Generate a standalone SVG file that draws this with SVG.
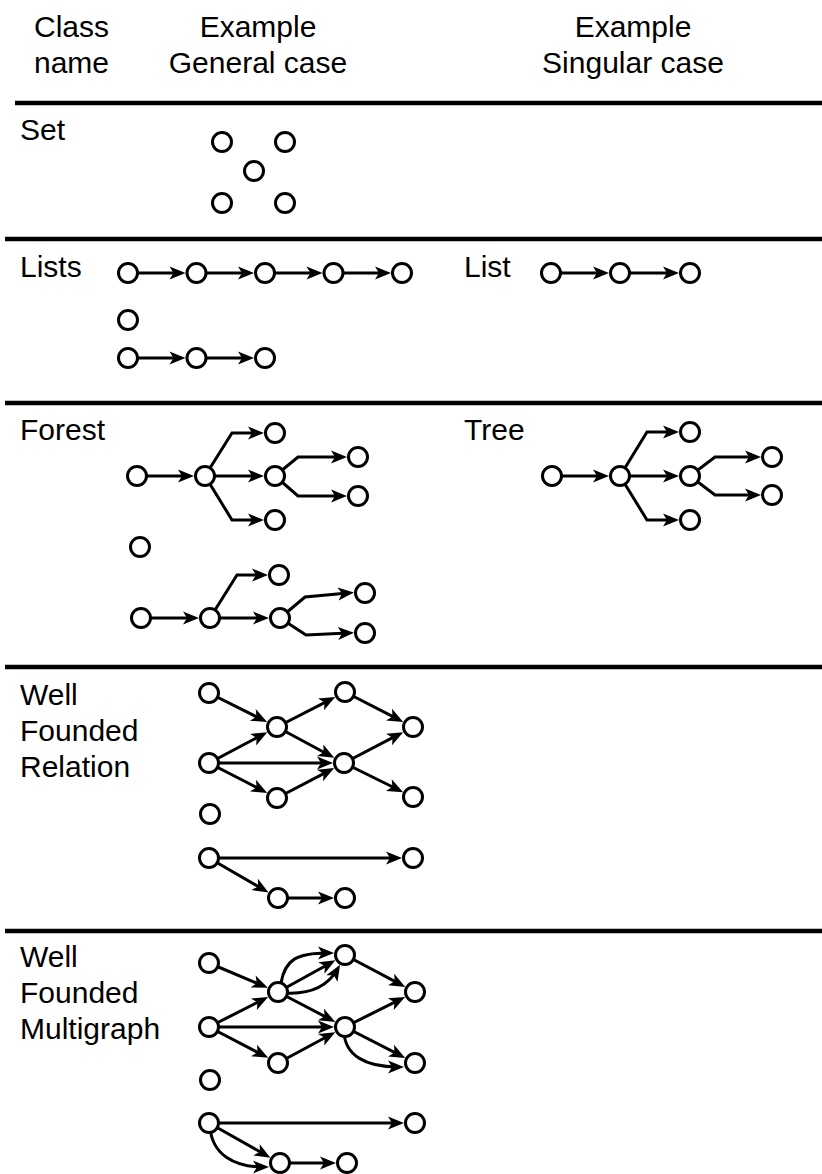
<svg xmlns="http://www.w3.org/2000/svg" width="822" height="1174" viewBox="0 0 822 1174">
<style>
.n{fill:#fff;stroke:#000;stroke-width:3}
.e{fill:none;stroke:#000;stroke-width:3;marker-end:url(#ah)}
.t{font-family:"Liberation Sans",Arial,sans-serif;font-size:30px;fill:#000}
.m{text-anchor:middle}
.rule{stroke:#000;stroke-width:4.5}
</style>
<defs>
<marker id="ah" viewBox="0 0 16 13" markerWidth="16" markerHeight="13" refX="10" refY="6.5" orient="auto" markerUnits="userSpaceOnUse" overflow="visible">
<path d="M0,0 L16,6.5 L0,13 L4,6.5 z" fill="#000"/>
</marker>
</defs>
<rect width="822" height="1174" fill="#fff"/>

<g id="header">
<text class="t" x="34" y="37">Class</text>
<text class="t" x="34" y="73">name</text>
<text class="t m" x="258" y="37">Example</text>
<text class="t m" x="258" y="73">General case</text>
<text class="t m" x="633" y="37">Example</text>
<text class="t m" x="633" y="73">Singular case</text>
</g>

<g id="rules">
<line class="rule" x1="15" y1="103" x2="822" y2="103"/>
<line class="rule" x1="5" y1="239" x2="822" y2="239"/>
<line class="rule" x1="5" y1="403" x2="822" y2="403"/>
<line class="rule" x1="5" y1="667" x2="822" y2="667"/>
<line class="rule" x1="5" y1="931" x2="822" y2="931"/>
</g>

<g id="labels">
<text class="t" x="20" y="140">Set</text>
<text class="t" x="20" y="277">Lists</text>
<text class="t" x="464" y="277">List</text>
<text class="t" x="20" y="440">Forest</text>
<text class="t" x="464" y="440">Tree</text>
<text class="t" x="20" y="705">Well</text>
<text class="t" x="20" y="741">Founded</text>
<text class="t" x="20" y="777">Relation</text>
<text class="t" x="20" y="967">Well</text>
<text class="t" x="20" y="1003">Founded</text>
<text class="t" x="20" y="1039">Multigraph</text>
</g>

<g id="connectors">
<!-- Lists -->
<path class="e" d="M128,273 H179.5"/>
<path class="e" d="M196.5,273 H248"/>
<path class="e" d="M265,273 H316.5"/>
<path class="e" d="M333.5,273 H385"/>
<path class="e" d="M128,358 H179.5"/>
<path class="e" d="M196.5,358 H248"/>
<!-- List -->
<path class="e" d="M551,273 H603"/>
<path class="e" d="M620,273 H673"/>
<!-- Forest tree 1 -->
<path class="e" d="M137,476 H188"/>
<path class="e" d="M205,476 L232,433 H258"/>
<path class="e" d="M205,476 H258"/>
<path class="e" d="M205,476 L232,520 H258"/>
<path class="e" d="M275,476 L298,457 H341"/>
<path class="e" d="M275,476 L298,496 H341"/>
<!-- Forest tree 2 -->
<path class="e" d="M141,618 H193"/>
<path class="e" d="M210,618 L237,575 H262"/>
<path class="e" d="M210,618 H263"/>
<path class="e" d="M280,618 L305,597 L348,593"/>
<path class="e" d="M280,618 L306,635 L348,633"/>
<!-- Tree -->
<path class="e" d="M552,476 H603"/>
<path class="e" d="M620,476 L647,432 H673"/>
<path class="e" d="M620,476 H673"/>
<path class="e" d="M620,476 L647,520 H673"/>
<path class="e" d="M690,476 L715,457 H755"/>
<path class="e" d="M690,476 L715,495 H755"/>
<!-- Well founded relation -->
<path class="e" d="M209,693 L261.8,719.4"/>
<path class="e" d="M209,763 L262,735"/>
<path class="e" d="M209,763 H327"/>
<path class="e" d="M209,763 L261.9,790.2"/>
<path class="e" d="M277,727 L329.9,699.8"/>
<path class="e" d="M277,727 L329,755"/>
<path class="e" d="M277,798 L328.9,770.9"/>
<path class="e" d="M345,692 L397.9,719.2"/>
<path class="e" d="M344,763 L397.9,734.9"/>
<path class="e" d="M344,763 L397.8,789.5"/>
<path class="e" d="M209,858 H396"/>
<path class="e" d="M209,858 L263.3,889.5"/>
<path class="e" d="M278,898 H328"/>
<!-- Well founded multigraph -->
<path class="e" d="M209,963 L262.3,985.4"/>
<path class="e" d="M209,1027 L262.8,999.7"/>
<path class="e" d="M209,1027 H328"/>
<path class="e" d="M209,1027 L262.9,1055.1"/>
<path class="e" d="M278,992 L330.1,963.2"/>
<path class="e" d="M281,983 C285,960 296,953 328,953"/>
<path class="e" d="M286,993 C305,994 325,990 337,970"/>
<path class="e" d="M278,992 L329.9,1019.1"/>
<path class="e" d="M278,1063 L330,1035"/>
<path class="e" d="M345,955 L400,984.1"/>
<path class="e" d="M345,1027 L399.8,999.6"/>
<path class="e" d="M345,1027 L399.9,1055.2"/>
<path class="e" d="M344,1032 C345,1055 365,1067 398,1067"/>
<path class="e" d="M209,1123 H398"/>
<path class="e" d="M209,1123 L265.2,1154.7"/>
<path class="e" d="M210,1127 C212,1155 235,1167 263,1167"/>
<path class="e" d="M280,1163 H330"/>
</g>

<g id="set-n1"><circle class="n" cx="222" cy="142" r="9.5"/></g>
<g id="set-n2"><circle class="n" cx="285" cy="142" r="9.5"/></g>
<g id="set-n3"><circle class="n" cx="254" cy="171" r="9.5"/></g>
<g id="set-n4"><circle class="n" cx="222" cy="203" r="9.5"/></g>
<g id="set-n5"><circle class="n" cx="285" cy="203" r="9.5"/></g>

<g id="lists-a1"><circle class="n" cx="128" cy="273" r="9.5"/></g>
<g id="lists-a2"><circle class="n" cx="196.5" cy="273" r="9.5"/></g>
<g id="lists-a3"><circle class="n" cx="265" cy="273" r="9.5"/></g>
<g id="lists-a4"><circle class="n" cx="333.5" cy="273" r="9.5"/></g>
<g id="lists-a5"><circle class="n" cx="402" cy="273" r="9.5"/></g>
<g id="lists-b1"><circle class="n" cx="128" cy="320" r="9.5"/></g>
<g id="lists-c1"><circle class="n" cx="128" cy="358" r="9.5"/></g>
<g id="lists-c2"><circle class="n" cx="196.5" cy="358" r="9.5"/></g>
<g id="lists-c3"><circle class="n" cx="265" cy="358" r="9.5"/></g>

<g id="list-1"><circle class="n" cx="551" cy="273" r="9.5"/></g>
<g id="list-2"><circle class="n" cx="620" cy="273" r="9.5"/></g>
<g id="list-3"><circle class="n" cx="690" cy="273" r="9.5"/></g>

<g id="forest1-root"><circle class="n" cx="137" cy="476" r="9.5"/></g>
<g id="forest1-a"><circle class="n" cx="205" cy="476" r="9.5"/></g>
<g id="forest1-top"><circle class="n" cx="275" cy="433" r="9.5"/></g>
<g id="forest1-mid"><circle class="n" cx="275" cy="476" r="9.5"/></g>
<g id="forest1-bot"><circle class="n" cx="275" cy="520" r="9.5"/></g>
<g id="forest1-c1"><circle class="n" cx="358" cy="457" r="9.5"/></g>
<g id="forest1-c2"><circle class="n" cx="358" cy="496" r="9.5"/></g>
<g id="forest-iso"><circle class="n" cx="140" cy="547" r="9.5"/></g>
<g id="forest2-root"><circle class="n" cx="141" cy="618" r="9.5"/></g>
<g id="forest2-a"><circle class="n" cx="210" cy="618" r="9.5"/></g>
<g id="forest2-top"><circle class="n" cx="279" cy="575" r="9.5"/></g>
<g id="forest2-mid"><circle class="n" cx="280" cy="618" r="9.5"/></g>
<g id="forest2-c1"><circle class="n" cx="365" cy="593" r="9.5"/></g>
<g id="forest2-c2"><circle class="n" cx="365" cy="633" r="9.5"/></g>

<g id="tree-root"><circle class="n" cx="552" cy="476" r="9.5"/></g>
<g id="tree-a"><circle class="n" cx="620" cy="476" r="9.5"/></g>
<g id="tree-top"><circle class="n" cx="690" cy="432" r="9.5"/></g>
<g id="tree-mid"><circle class="n" cx="690" cy="476" r="9.5"/></g>
<g id="tree-bot"><circle class="n" cx="690" cy="520" r="9.5"/></g>
<g id="tree-c1"><circle class="n" cx="772" cy="457" r="9.5"/></g>
<g id="tree-c2"><circle class="n" cx="772" cy="495" r="9.5"/></g>

<g id="wfr-tl"><circle class="n" cx="209" cy="693" r="9.5"/></g>
<g id="wfr-n2"><circle class="n" cx="277" cy="727" r="9.5"/></g>
<g id="wfr-top"><circle class="n" cx="345" cy="692" r="9.5"/></g>
<g id="wfr-ru"><circle class="n" cx="413" cy="727" r="9.5"/></g>
<g id="wfr-lm"><circle class="n" cx="209" cy="763" r="9.5"/></g>
<g id="wfr-ce"><circle class="n" cx="344" cy="763" r="9.5"/></g>
<g id="wfr-lo"><circle class="n" cx="277" cy="798" r="9.5"/></g>
<g id="wfr-rl"><circle class="n" cx="413" cy="797" r="9.5"/></g>
<g id="wfr-iso"><circle class="n" cx="210" cy="814" r="9.5"/></g>
<g id="wfr-bl"><circle class="n" cx="209" cy="858" r="9.5"/></g>
<g id="wfr-br"><circle class="n" cx="413" cy="858" r="9.5"/></g>
<g id="wfr-bo"><circle class="n" cx="278" cy="898" r="9.5"/></g>
<g id="wfr-bo2"><circle class="n" cx="345" cy="898" r="9.5"/></g>

<g id="wfm-tl"><circle class="n" cx="209" cy="963" r="9.5"/></g>
<g id="wfm-n2"><circle class="n" cx="278" cy="992" r="9.5"/></g>
<g id="wfm-top"><circle class="n" cx="345" cy="955" r="9.5"/></g>
<g id="wfm-ru"><circle class="n" cx="415" cy="992" r="9.5"/></g>
<g id="wfm-lm"><circle class="n" cx="209" cy="1027" r="9.5"/></g>
<g id="wfm-ce"><circle class="n" cx="345" cy="1027" r="9.5"/></g>
<g id="wfm-lo"><circle class="n" cx="278" cy="1063" r="9.5"/></g>
<g id="wfm-rl"><circle class="n" cx="415" cy="1063" r="9.5"/></g>
<g id="wfm-iso"><circle class="n" cx="210" cy="1080" r="9.5"/></g>
<g id="wfm-bl"><circle class="n" cx="209" cy="1123" r="9.5"/></g>
<g id="wfm-br"><circle class="n" cx="415" cy="1123" r="9.5"/></g>
<g id="wfm-bo"><circle class="n" cx="280" cy="1163" r="9.5"/></g>
<g id="wfm-bo2"><circle class="n" cx="347" cy="1163" r="9.5"/></g>
</svg>
